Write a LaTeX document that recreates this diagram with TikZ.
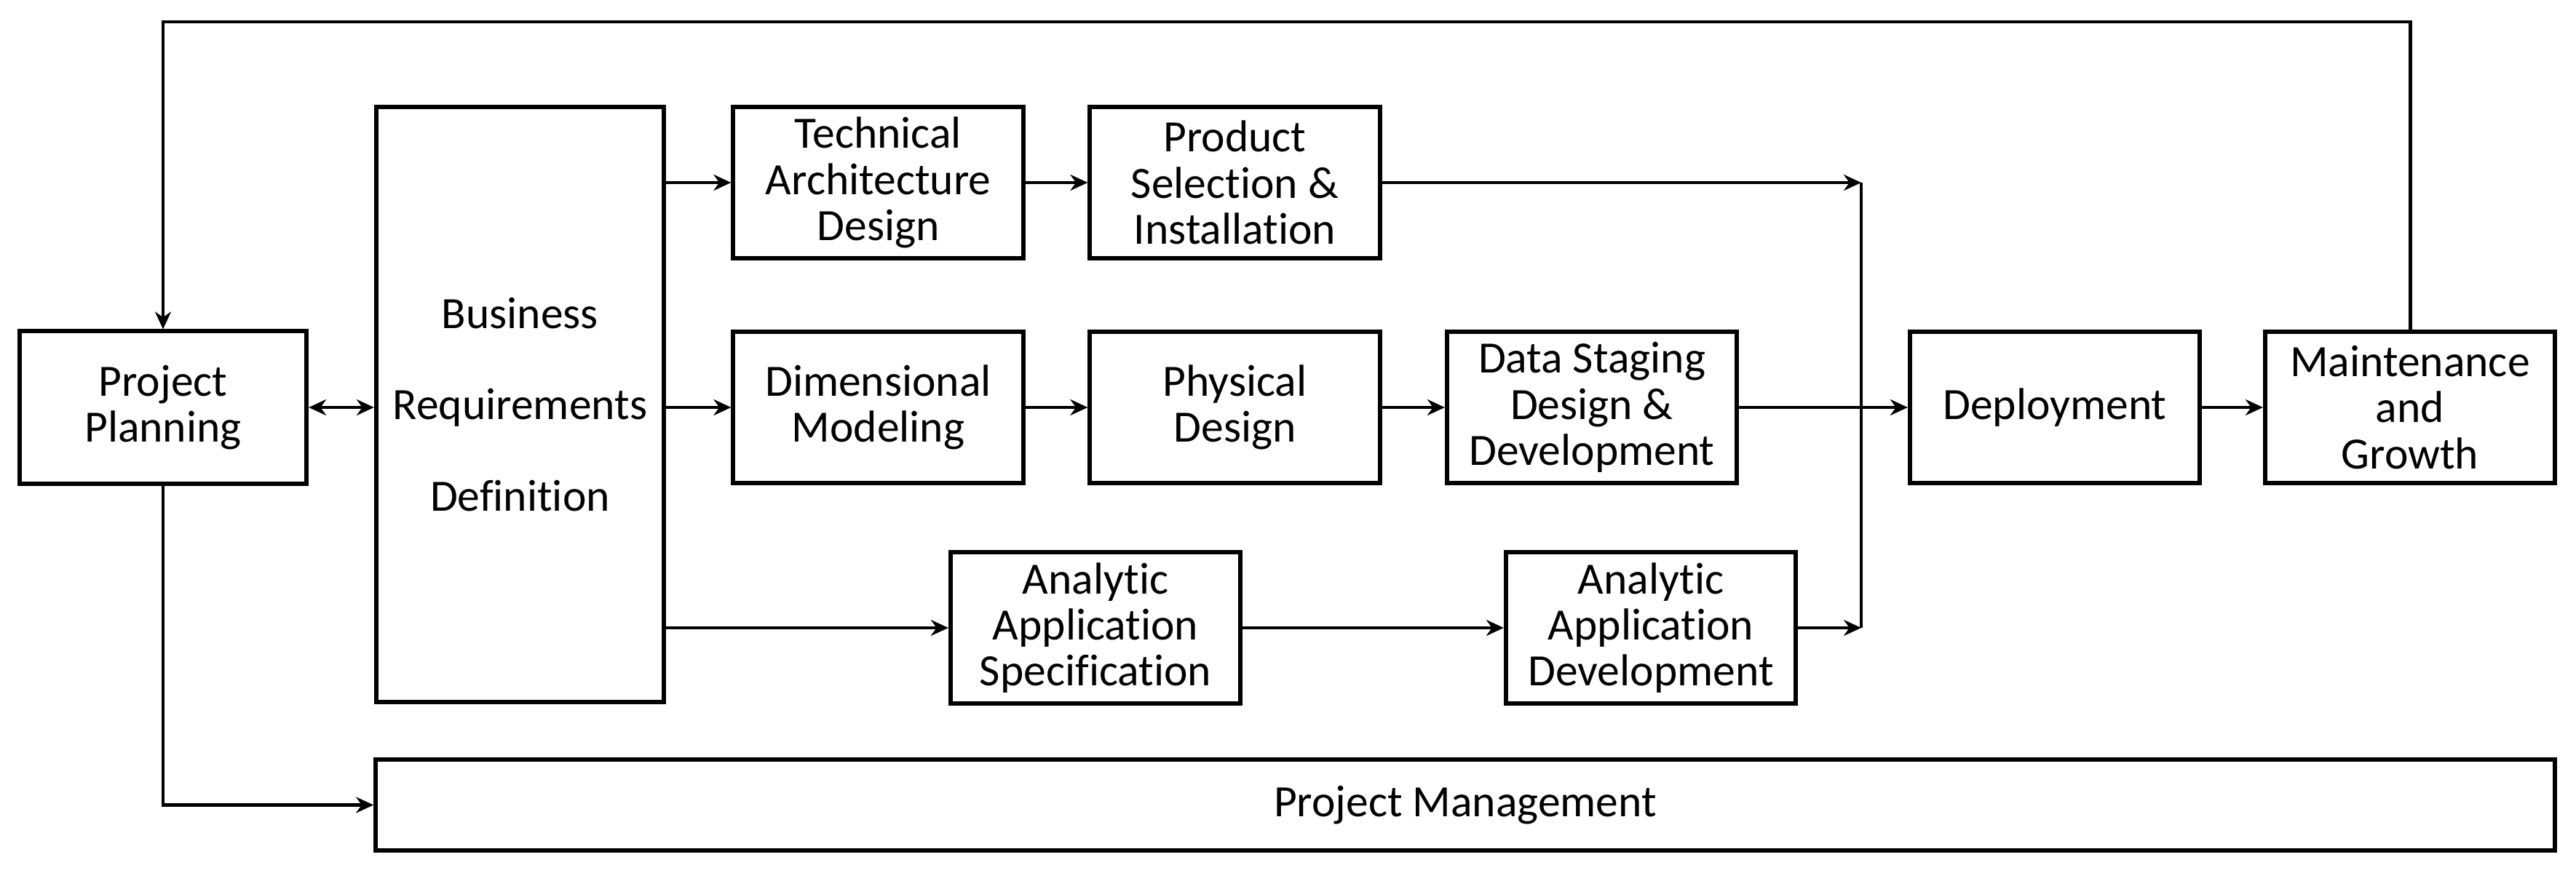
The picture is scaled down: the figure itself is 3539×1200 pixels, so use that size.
\documentclass[tikz,border=0pt]{standalone}
\usepackage{fontspec}
\setmainfont{Carlito}[Ligatures=NoCommon]
\usetikzlibrary{arrows.meta}
\begin{document}
\begin{tikzpicture}[x=0.01cm,y=-0.01cm,
  box/.style={draw, line width=1.7pt, inner sep=0pt, align=center,
    font=\fontsize{17.5}{18}\selectfont},
  rowbox/.style={box, minimum width=3.98cm, minimum height=2.08cm},
  link/.style={line width=1.4pt},
  conn/.style={link, -{Stealth[length=0.24cm,width=0.22cm]}},
  dconn/.style={link, {Stealth[length=0.24cm,width=0.22cm]}-{Stealth[length=0.24cm,width=0.22cm]}}
]
\useasboundingbox (0,0) rectangle (3539,1200);

\node[box, minimum width=3.94cm, minimum height=2.09cm] (pp) at (224,560) {Project\\Planning};
\node[box, minimum width=3.95cm, minimum height=8.18cm] (brd) at (714.5,556)
  {Business\\[0.62cm]Requirements\\[0.62cm]Definition};
\node[rowbox] (tad) at (1206.5,251) {Technical\\Architecture\\Design};
\node[rowbox] (psi) at (1696.5,251) {Product\\Selection \&\\Installation};
\node[rowbox] (dm) at (1206.5,560) {Dimensional\\Modeling};
\node[rowbox] (pd) at (1696.5,560) {Physical\\Design};
\node[rowbox] (dsdd) at (2187,560) {Data Staging\\Design \&\\Development};
\node[rowbox] (aas) at (1505,863) {Analytic\\Application\\Specification};
\node[rowbox] (aad) at (2268,863) {Analytic\\Application\\Development};
\node[rowbox] (dep) at (2823,560) {Deployment};
\node[rowbox] (mg) at (3311,560) {Maintenance\\and\\Growth};
\node[box, minimum width=29.92cm, minimum height=1.25cm] (pm) at (2013,1106.5) {Project Management};

\coordinate (ftop) at (0,30);
\coordinate (mtop) at (2557,251);
\coordinate (mbot) at (2557,863);

\draw[dconn] (pp.east) -- (brd.west |- pp.east);
\draw[conn] (brd.east |- tad.west) -- (tad.west);
\draw[conn] (brd.east |- dm.west) -- (dm.west);
\draw[conn] (brd.east |- aas.west) -- (aas.west);
\draw[conn] (tad) -- (psi);
\draw[conn] (dm) -- (pd);
\draw[conn] (pd) -- (dsdd);
\draw[conn] (aas) -- (aad);
\draw[link] (mtop) -- (mbot);
\draw[conn] (psi.east) -- (mtop);
\draw[conn] (aad.east) -- (mbot);
\draw[conn] (dsdd.east) -- (dep.west);
\draw[conn] (dep) -- (mg);
\draw[conn] (mg.north) -- (mg.north |- ftop) -| (pp.north);
\draw[conn] (pp.south) |- (pm.west);
\end{tikzpicture}
\end{document}
